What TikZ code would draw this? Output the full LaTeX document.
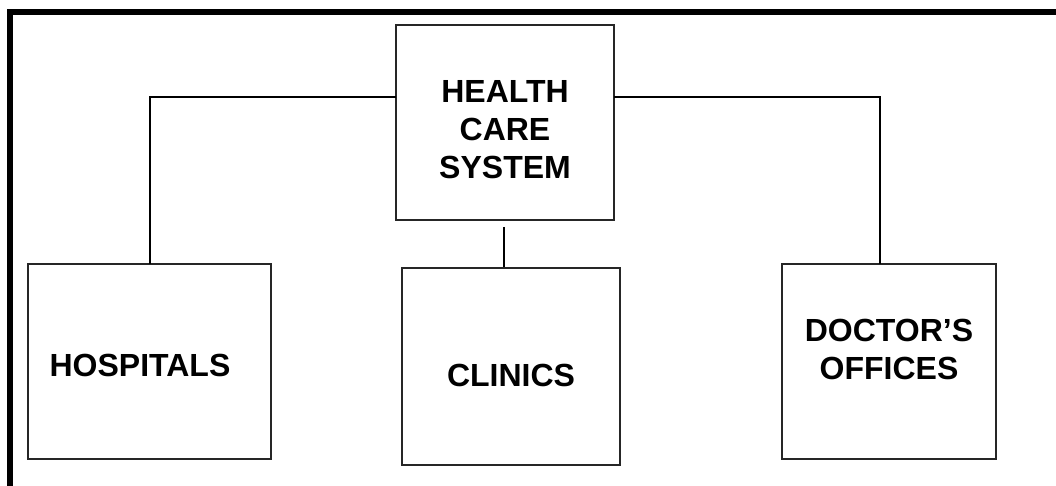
\documentclass[tikz,border=0pt]{standalone}
\usepackage{fontspec}
\setmainfont{Liberation Sans}
\begin{document}
\begin{tikzpicture}[x=1pt,y=-1pt,
  box/.style={draw=black!85,line width=1.5pt},
  lbl/.style={font=\bfseries\fontsize{32}{38}\selectfont,align=center,inner sep=0pt},
  conn/.style={draw,line width=1.8pt},
  frame/.style={line width=6pt}]
\useasboundingbox (0,0) rectangle (1056,486);
\draw[frame] (10,490) -- (10,12) -- (1060,12);
\draw[box] (396,25) rectangle (614,220);
\draw[box] (28,264) rectangle (271,459);
\draw[box] (402,268) rectangle (620,465);
\draw[box] (782,264) rectangle (996,459);
\node[lbl] (hcs) at (505,130) {HEALTH\\CARE\\SYSTEM};
\node[lbl] (hos) at (140,365) {HOSPITALS};
\node[lbl] (cli) at (511,375) {CLINICS};
\node[lbl] (doc) at (889,349) {DOCTOR’S\\OFFICES};
\coordinate (tl) at (396,97);
\coordinate (tr) at (614,97);
\coordinate (lc) at (150,97);
\coordinate (rc) at (880,97);
\coordinate (hostop) at (150,264);
\coordinate (doctop) at (880,264);
\coordinate (ctop) at (504,227);
\coordinate (cbot) at (504,267);
\draw[conn] (tl) -- (lc) -- (hostop);
\draw[conn] (tr) -- (rc) -- (doctop);
\draw[conn] (ctop) -- (cbot);
\end{tikzpicture}
\end{document}
